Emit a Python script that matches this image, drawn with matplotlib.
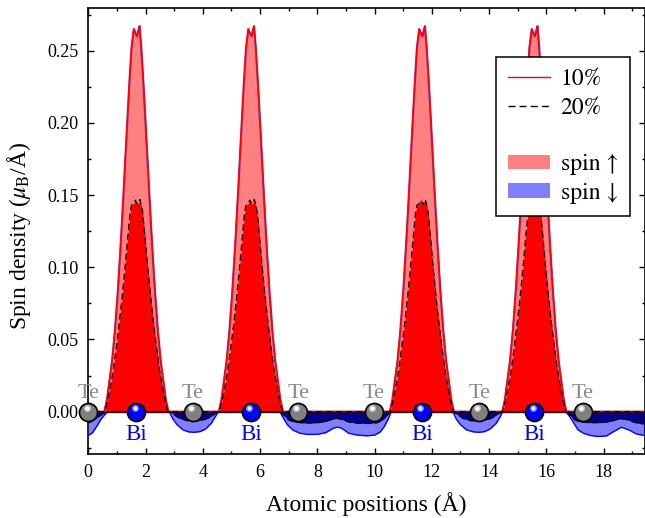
import numpy as np
import matplotlib
matplotlib.use("Agg")
import matplotlib.pyplot as plt
from matplotlib.lines import Line2D
from matplotlib.patches import Patch
from matplotlib.ticker import MultipleLocator, FormatStrFormatter
from matplotlib.transforms import offset_copy

plt.rcParams['font.family'] = ['Liberation Serif', 'DejaVu Serif']
plt.rcParams['mathtext.fontset'] = 'stix'

# ---- atomic sites (Å) ----
bi_pos = [1.68, 5.68, 11.65, 15.58]
te_pos = [0.0, 3.64, 7.33, 9.97, 13.65, 17.28]
x_max = 19.43

# ---- spin-up peak profile around each Bi site (offset in Å, density) ----
up_offset = [-1.12, -1.03, -0.95, -0.85, -0.75, -0.65, -0.55, -0.45, -0.35, -0.25,
             -0.17, -0.09, -0.03, 0.02, 0.07, 0.11, 0.17, 0.25, 0.35, 0.45,
             0.55, 0.65, 0.75, 0.85, 0.95, 1.03, 1.12]
up10_profile = [0.0, 0.008, 0.020, 0.035, 0.056, 0.083, 0.115, 0.151, 0.189, 0.226,
                0.252, 0.265, 0.262, 0.260, 0.264, 0.267, 0.252, 0.226, 0.189, 0.151,
                0.115, 0.083, 0.056, 0.035, 0.020, 0.008, 0.0]
up20_offset = [-1.10, -1.0, -0.9, -0.8, -0.7, -0.6, -0.5, -0.4, -0.3, -0.22,
               -0.17, -0.10, -0.04, 0.0, 0.04, 0.09, 0.12, 0.17, 0.22, 0.3,
               0.4, 0.5, 0.6, 0.7, 0.8, 0.9, 1.0, 1.10]
up20_profile = [0.0, 0.008, 0.018, 0.030, 0.045, 0.061, 0.079, 0.099, 0.121, 0.138,
                0.143, 0.144, 0.1465, 0.145, 0.1437, 0.145, 0.147, 0.143, 0.138, 0.121,
                0.099, 0.079, 0.061, 0.045, 0.030, 0.018, 0.008, 0.0]

# ---- spin-down density (negative), 10% ----
dn10_x = [0.0, 0.15, 0.3, 0.45, 0.6, 0.68,
          2.83, 2.95, 3.1, 3.3, 3.5, 3.7, 3.9, 4.1, 4.3, 4.45, 4.54,
          6.69, 6.8, 6.95, 7.15, 7.4, 7.7, 8.0, 8.3, 8.55, 8.7, 8.85, 9.1, 9.4, 9.7,
          10.0, 10.2, 10.35, 10.48, 10.58,
          12.73, 12.85, 13.0, 13.2, 13.45, 13.65, 13.85, 14.05, 14.25, 14.4, 14.47,
          16.68, 16.8, 16.93, 17.1, 17.3, 17.55, 17.8, 18.1, 18.35, 18.62, 18.9,
          19.15, 19.43]
dn10 = [-0.0165, -0.0145, -0.010, -0.005, -0.0015, 0.0,
        0.0, -0.005, -0.009, -0.0125, -0.0140, -0.0143, -0.0138, -0.012, -0.008, -0.003, 0.0,
        0.0, -0.004, -0.009, -0.0128, -0.0150, -0.0158, -0.0157, -0.0145, -0.0115, -0.0107,
        -0.0115, -0.0150, -0.0162, -0.0167, -0.0163, -0.014, -0.010, -0.005, 0.0,
        0.0, -0.005, -0.009, -0.0125, -0.0140, -0.0143, -0.0138, -0.0118, -0.008, -0.003, 0.0,
        0.0, -0.003, -0.007, -0.0125, -0.0150, -0.0165, -0.0172, -0.0168, -0.0138, -0.0108,
        -0.0128, -0.0155, -0.0165]

# ---- spin-down density (negative), 20% ----
dn20_x = [0.0, 0.15, 0.3, 0.45, 0.6, 0.65,
          2.85, 3.0, 3.2, 3.45, 3.7, 3.95, 4.2, 4.4, 4.52,
          6.72, 6.85, 7.0, 7.2, 7.5, 7.9, 8.2, 8.5, 8.68, 8.85, 9.1, 9.4, 9.8,
          10.1, 10.3, 10.45, 10.55,
          12.75, 12.9, 13.1, 13.35, 13.6, 13.85, 14.1, 14.3, 14.45,
          16.7, 16.85, 17.0, 17.2, 17.5, 17.9, 18.2, 18.45, 18.62, 18.8, 19.05,
          19.25, 19.43]
dn20 = [-0.0078, -0.0063, -0.0042, -0.0022, -0.0006, 0.0,
        0.0, -0.0022, -0.0048, -0.0062, -0.0065, -0.006, -0.0044, -0.0017, 0.0,
        0.0, -0.0032, -0.0058, -0.0072, -0.0078, -0.0078, -0.0072, -0.0054, -0.0046,
        -0.0054, -0.0072, -0.008, -0.0082, -0.0076, -0.0054, -0.0022, 0.0,
        0.0, -0.0022, -0.0048, -0.0062, -0.0065, -0.006, -0.0044, -0.0017, 0.0,
        0.0, -0.0032, -0.0058, -0.0072, -0.0076, -0.0076, -0.0069, -0.0055, -0.0049,
        -0.0055, -0.0072, -0.0082, -0.0085]


def peaks_curve(offsets, profile):
    """Place the Bi-centred peak profile at every Bi site, zero elsewhere."""
    xs, ys = [0.0], [0.0]
    for c in bi_pos:
        xs += [c + o for o in offsets]
        ys += list(profile)
    xs.append(x_max)
    ys.append(0.0)
    return np.array(xs), np.array(ys)


def pad_zero(xs, ys):
    xs = list(xs)
    ys = list(ys)
    if xs[-1] < x_max:
        xs.append(x_max)
        ys.append(0.0)
    return np.array(xs), np.array(ys)


x_u10, y_u10 = peaks_curve(up_offset, up10_profile)
x_u20, y_u20 = peaks_curve(up20_offset, up20_profile)
x_d10, y_d10 = pad_zero(dn10_x, dn10)
x_d20, y_d20 = pad_zero(dn20_x, dn20)

c_up10 = '#ff8080'
c_up20 = '#ff0000'
c_dn10 = '#8080ff'
c_dn20 = '#00008b'

fig = plt.figure(figsize=(6.45, 5.18), dpi=100)
ax = fig.add_axes([0.1369, 0.1236, 0.8624, 0.8604])

# fills
ax.fill_between(x_u10, 0, y_u10, color=c_up10, lw=0, zorder=1)
ax.fill_between(x_d10, 0, y_d10, color=c_dn10, lw=0, zorder=1)
ax.fill_between(x_u20, 0, y_u20, color=c_up20, lw=0, zorder=2)
ax.fill_between(x_d20, 0, y_d20, color=c_dn20, lw=0, zorder=2)

# outlines
ax.plot(x_u10, y_u10, color='#b02a6a', lw=1.6, zorder=3)
ax.plot(x_u10, y_u10, color='#ff0000', lw=0.9, zorder=3.1)
ax.plot(x_d10, y_d10, color='#0000ff', lw=1.0, zorder=3)
ax.plot(x_u20, y_u20, color='black', lw=0.9, dashes=(5, 3), zorder=4)
ax.plot(x_d20, y_d20, color='black', lw=0.9, dashes=(5, 3), zorder=4)
ax.axhline(0, color='#2a0010', lw=1.0, zorder=4.5)

# atoms
hl = offset_copy(ax.transData, fig=fig, x=-1.2, y=2.8, units='points')
for x in te_pos:
    ax.plot(x, 0, 'o', ms=13, mfc='#808080', mec='black', mew=1.2, zorder=10, clip_on=False)
    ax.plot(x, 0, 'o', ms=5, mfc='#c8c8c8', mec='none', zorder=11, clip_on=False, transform=hl)
    ax.plot(x, 0, 'o', ms=2.8, mfc='white', mec='none', zorder=12, clip_on=False, transform=hl)
    ax.annotate('Te', (x, 0), xytext=(0, 9.6), textcoords='offset points',
                ha='center', va='baseline', fontsize=16, color='#8a8a8a',
                zorder=12, annotation_clip=False)
for x in bi_pos:
    ax.plot(x, 0, 'o', ms=13, mfc='#0000ff', mec='black', mew=1.2, zorder=10, clip_on=False)
    ax.plot(x, 0, 'o', ms=5, mfc='#8080ff', mec='none', zorder=11, clip_on=False, transform=hl)
    ax.plot(x, 0, 'o', ms=2.8, mfc='white', mec='none', zorder=12, clip_on=False, transform=hl)
    ax.annotate('Bi', (x, 0), xytext=(0, -20.4), textcoords='offset points',
                ha='center', va='baseline', fontsize=16.5, color='#0000ff',
                zorder=12, annotation_clip=False)

# axes
ax.set_xlim(0, x_max)
ax.set_ylim(-0.0293, 0.2794)
ax.xaxis.set_major_locator(MultipleLocator(2))
ax.xaxis.set_minor_locator(MultipleLocator(1))
ax.yaxis.set_major_locator(MultipleLocator(0.05))
ax.yaxis.set_minor_locator(MultipleLocator(0.025))
ax.yaxis.set_major_formatter(FormatStrFormatter('%.2f'))
ax.tick_params(which='both', direction='in', top=True, right=True, width=1.0,
               labelsize=13, pad=7)
ax.tick_params(which='major', length=4.3)
ax.tick_params(which='minor', length=2.4)
for s in ax.spines.values():
    s.set_linewidth(1.2)

ax.set_xlabel('Atomic positions (Å)', fontsize=17)
ax.set_ylabel('Spin density ($\\mu_\\mathrm{B}$/Å)', fontsize=17)
ax.xaxis.set_label_coords(0.5, -0.085)
ax.yaxis.set_label_coords(-0.099, 0.49)

handles = [Line2D([], [], color='#ff0000', lw=1.0),
           Line2D([], [], color='black', lw=1.0, dashes=(5, 3)),
           Line2D([], [], color='none'),
           Patch(facecolor=c_up10, edgecolor='none'),
           Patch(facecolor=c_dn10, edgecolor='none')]
labels = ['10%', '20%', ' ', 'spin ↑', 'spin ↓']
leg = ax.legend(handles, labels, loc='upper right', bbox_to_anchor=(0.974, 0.891),
                borderaxespad=0, prop={'family': 'STIXGeneral', 'size': 17},
                frameon=True, fancybox=False,
                framealpha=1, edgecolor='black', handlelength=1.8,
                handletextpad=0.45, handleheight=0.55, labelspacing=0.3,
                borderpad=0.5)
leg.get_frame().set_linewidth(1.1)
leg.set_zorder(20)

fig.savefig('out.png', dpi=100)
